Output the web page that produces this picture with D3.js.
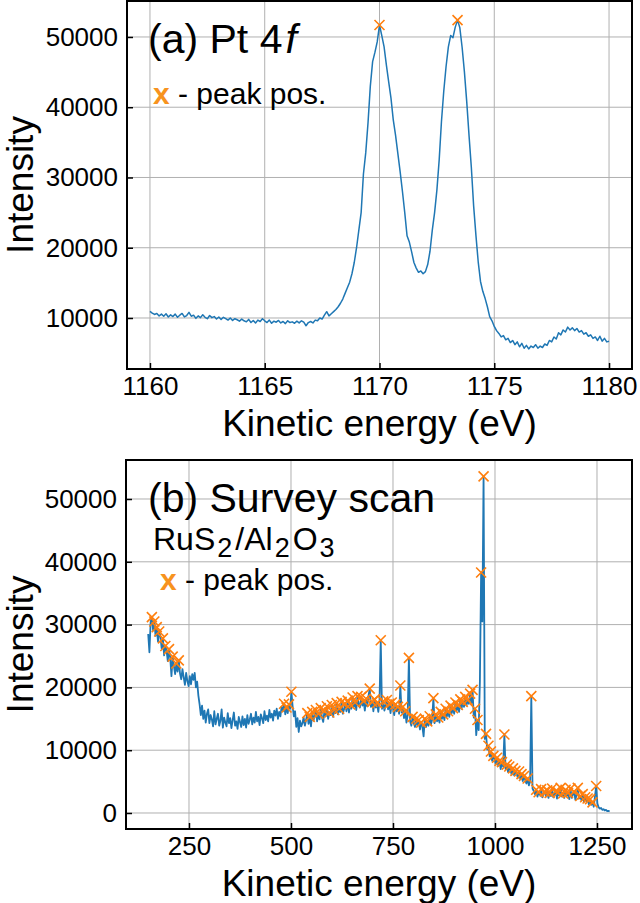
<!DOCTYPE html>
<html>
<head>
<meta charset="UTF-8">
<script src="https://cdn.jsdelivr.net/npm/d3@7"></script>
<style>
body{
    margin:0;
    background-color:#fff;
    font-family:"Liberation Sans", Helvetica, Arial, sans-serif;
}
.grid line{
    stroke:#b0b0b0;
    stroke-width:1;
}
.axis line{
    stroke:#000;
    stroke-width:1.5;
}
.axis path{
    display:none;
}
</style>
</head>
<body>
<script>

// (a) Pt 4f region, energy grid 1160 -> 1180 eV in 0.1 eV steps
var ptStart = 1160, ptStep = 0.1;
var ptIntensity = [
 10950,10700,10500,10650,10300,10550,10250,10600,10150,10450,
 10200,10550,10100,10400,10650,10150,10350,10800,10250,10400,
 9950,10300,10050,10450,10100,9900,10350,10050,10200,9850,
 10150,9800,10100,9900,9700,10000,9650,9900,9750,9550,
 9850,9600,9450,9800,9350,9650,9300,9700,9500,9900,
 9600,9350,9700,9250,9550,9400,9650,9300,9500,9200,
 9600,9350,9450,9250,9550,9300,9600,9400,8900,9350,
 9500,9300,9700,9600,10000,9850,10400,10900,10300,10600,
 10900,11200,11600,12100,12700,13500,14300,15100,16300,17900,
 20000,22500,25000,30500,33500,37800,43000,46500,47800,49300,
 51700,50200,48600,46000,43600,41300,38200,36000,33400,30800,
 28000,25000,21700,20800,19400,17900,17100,16500,16700,16300,
 16600,17600,19500,22500,25000,28200,32500,38000,42300,45800,
 48600,50200,49900,51400,52400,51300,48500,45000,40800,36000,
 31500,26000,21800,18000,15200,13800,12800,11600,10200,9600,
 8800,8200,7800,7300,7500,6900,7100,6500,6800,6200,
 6600,5900,6400,5700,6100,5600,6000,5800,6200,5700,
 6000,5800,6300,6100,6800,6600,7300,7000,7900,7600,
 8300,8000,8700,8300,8600,8200,8500,8000,8200,7700,
 7900,7400,7600,7100,7300,6800,7400,6700,7100,6600,
 6700
];
var ptPeaks = [1170.0, 1173.4];
var ptXTicks = [1160, 1165, 1170, 1175, 1180];
var ptYTicks = [10000, 20000, 30000, 40000, 50000];

// (b) survey scan, 150 -> 1281 eV in 3 eV steps
var surveyStart = 150, surveyStep = 3;
var surveyIntensity = [
 28500,25600,30400,31200,29100,30500,28200,29600,27300,28900,
 28100,26200,27800,25100,26600,25900,24200,26100,24700,21800,
 24900,23400,22100,23800,22500,24300,22200,21300,22900,21600,
 20400,22300,21000,20200,21800,20500,22100,21200,22300,20000,
 20900,18700,17300,15600,17100,15000,16300,14400,15800,16500,
 14300,15600,14900,13800,16200,14100,15000,15800,13900,14700,
 16500,13600,15200,14400,13800,15900,14300,15100,13500,14800,
 16000,13900,14600,13400,15300,14500,13700,15400,14000,15000,
 13600,15600,14200,14900,15800,14100,15200,14400,16100,14600,
 15300,14000,15700,15100,14300,16200,14800,15500,14600,16400,
 15200,15800,14700,16300,15500,16600,15000,16100,15400,16900,
 16200,17400,15700,16800,15900,17300,16600,19300,17000,15400,
 16200,13700,15100,12900,14700,13800,14300,15200,13900,14800,
 15900,14200,15300,13800,16100,14700,15500,16400,14600,15800,
 14900,16700,15200,14500,16300,15400,17000,15000,16000,15600,
 17200,15300,16400,15900,17500,15700,16600,16100,17700,15800,
 16500,17400,16200,17900,16000,17300,16600,18400,16900,17600,
 16400,18600,17200,16800,18500,17100,17800,16300,18200,17000,
 18700,19800,16900,17700,16200,18100,16800,17500,16100,17900,
 27500,16600,17800,16300,17200,18000,16500,17400,15900,17600,
 16700,15600,17300,16200,16900,15800,20300,16000,16900,15100,
 16200,14400,15600,24700,14600,13900,15300,14300,13700,15000,
 13900,14800,13300,14400,13800,12200,15000,13700,14600,13900,
 15400,14100,14900,18300,14300,15700,14600,15200,14400,16100,
 15000,15700,14800,16600,15400,16200,15300,17100,15900,16700,
 15800,17600,16300,17200,16100,18100,16600,17700,16900,18500,
 17100,18000,17400,19000,17500,19600,15200,16600,12400,14800,
 13200,21000,38300,30500,53600,11800,12600,10100,10700,9000,
 9800,8300,9100,8600,7700,8800,7500,8300,7000,8100,
 7400,12500,7000,7700,6500,7400,6800,6100,7100,6000,
 6700,6300,5600,6600,5400,6200,5100,5900,5300,4700,
 5500,4400,5000,18600,3900,3500,3000,3700,2600,3300,
 2900,3800,2500,3100,3400,2600,3600,2400,3200,2700,
 3900,2500,3000,3500,2300,3300,2800,4000,2600,3100,
 2400,3700,2700,3200,2200,3900,2400,3000,3400,2100,
 2900,4000,2300,2700,2000,3000,1800,2500,1900,2300,
 1400,2200,1300,1700,1000,2600,4300,1500,900,700,
 800,500,600,400,500,300,350,250
];
// energy windows where the peak finder marked local maxima
var surveyPeakWindows = [[150, 232], [478, 506], [540, 1252]];
var surveyXTicks = [250, 500, 750, 1000, 1250];
var surveyYTicks = [0, 10000, 20000, 30000, 40000, 50000];

var blue = "#1f77b4", orange = "#ff7f0e";

var ptData = ptIntensity.map(function(v, i){ return {x: +(ptStart + i*ptStep).toFixed(2), y: v}; });
var ptPeakData = ptPeaks.map(function(e){
    var i = Math.round((e - ptStart)/ptStep);
    return ptData[i];
});

var surveyData = surveyIntensity.map(function(v, i){ return {x: surveyStart + i*surveyStep, y: v}; });
var surveyPeakData = surveyData.filter(function(d, i){
    if (i == 0 || i == surveyData.length-1) return false;
    var inWin = surveyPeakWindows.some(function(w){ return d.x >= w[0] && d.x <= w[1]; });
    return inWin && d.y > surveyData[i-1].y && d.y > surveyData[i+1].y;
});

var svg = d3.select("body").append("svg")
    .attr("width", 640)
    .attr("height", 903);

function drawPanel(p){
    var x = d3.scaleLinear().domain(p.xDomain).range([p.left, p.right]);
    var y = d3.scaleLinear().domain(p.yDomain).range([p.bottom, p.top]);
    var g = svg.append("g");

    g.append("g").attr("class","grid").selectAll("line")
        .data(p.xTicks).enter().append("line")
        .attr("x1", function(d){ return x(d); }).attr("x2", function(d){ return x(d); })
        .attr("y1", p.top).attr("y2", p.bottom);
    g.append("g").attr("class","grid").selectAll("line")
        .data(p.yTicks).enter().append("line")
        .attr("y1", function(d){ return y(d); }).attr("y2", function(d){ return y(d); })
        .attr("x1", p.left).attr("x2", p.right);

    var line = d3.line().x(function(d){ return x(d.x); }).y(function(d){ return y(d.y); });
    g.append("path")
        .datum(p.data)
        .attr("d", line)
        .attr("fill","none")
        .attr("stroke", blue)
        .attr("stroke-width", p.lineWidth)
        .attr("stroke-linejoin","round");

    g.selectAll(".mk")
        .data(p.peaks)
        .enter().append("path")
        .attr("transform", function(d){ return "translate(" + x(d.x) + "," + y(d.y) + ")"; })
        .attr("d", "M-5,-5L5,5M-5,5L5,-5")
        .attr("fill","none")
        .attr("stroke", orange)
        .attr("stroke-width", 1.6);

    var gx = g.append("g")
        .attr("class","axis")
        .attr("transform","translate(0," + p.bottom + ")")
        .call(d3.axisBottom(x).tickValues(p.xTicks).tickSize(-6).tickPadding(8).tickFormat(d3.format("d")));
    var gy = g.append("g")
        .attr("class","axis")
        .attr("transform","translate(" + p.left + ",0)")
        .call(d3.axisLeft(y).tickValues(p.yTicks).tickSize(-6).tickPadding(9).tickFormat(d3.format("d")));
    [gx, gy].forEach(function(a){
        a.attr("font-family", null).attr("font-size", null);
        a.selectAll("text").attr("font-size", 26).attr("fill", "#000");
    });

    g.append("rect")
        .attr("x", p.left).attr("y", p.top)
        .attr("width", p.right - p.left).attr("height", p.bottom - p.top)
        .attr("fill","none").attr("stroke","#000").attr("stroke-width", 2);

    g.append("text")
        .attr("x", (p.left + p.right)/2)
        .attr("y", p.bottom + 67)
        .attr("font-size", 37)
        .attr("text-anchor","middle")
        .text("Kinetic energy (eV)");

    g.append("text")
        .attr("transform", "translate(33," + ((p.top + p.bottom)/2) + ") rotate(-90)")
        .attr("font-size", 37)
        .attr("text-anchor","middle")
        .text("Intensity");
    return g;
}

var ga = drawPanel({
    left: 127, right: 632, top: 1, bottom: 369,
    xDomain: [1159, 1181], yDomain: [2740, 55120],
    xTicks: ptXTicks, yTicks: ptYTicks,
    data: ptData, peaks: ptPeakData, lineWidth: 1.5
});

var gb = drawPanel({
    left: 126, right: 632, top: 460, bottom: 829,
    xDomain: [95.6, 1335.8], yDomain: [-2548, 56210],
    xTicks: surveyXTicks, yTicks: surveyYTicks,
    data: surveyData, peaks: surveyPeakData, lineWidth: 1.8
});

// annotations
var ta = ga.append("text").attr("x", 148).attr("y", 53).attr("font-size", 41);
ta.append("tspan").text("(a) Pt 4");
ta.append("tspan").attr("dx", 3).attr("font-style","italic").text("f");

function peakNote(g, px, py){
    var t = g.append("text").attr("x", px).attr("y", py).attr("font-size", 30);
    t.append("tspan").attr("fill", "#f7931e").attr("font-weight","bold").text("x");
    t.append("tspan").text(" - peak pos.");
}
peakNote(ga, 153, 104);

gb.append("text").attr("x", 148).attr("y", 512).attr("font-size", 41).text("(b) Survey scan");
var tf = gb.append("text").attr("x", 153).attr("y", 550).attr("font-size", 32);
tf.append("tspan").text("RuS");
tf.append("tspan").attr("dx", 2).attr("dy", 7).attr("font-size", 27).text("2");
tf.append("tspan").attr("dx", 3).attr("dy", -7).text("/Al");
tf.append("tspan").attr("dx", 2).attr("dy", 7).attr("font-size", 27).text("2");
tf.append("tspan").attr("dx", 3).attr("dy", -7).text("O");
tf.append("tspan").attr("dx", 2).attr("dy", 7).attr("font-size", 27).text("3");
peakNote(gb, 160, 590);

</script>
</body>
</html>
